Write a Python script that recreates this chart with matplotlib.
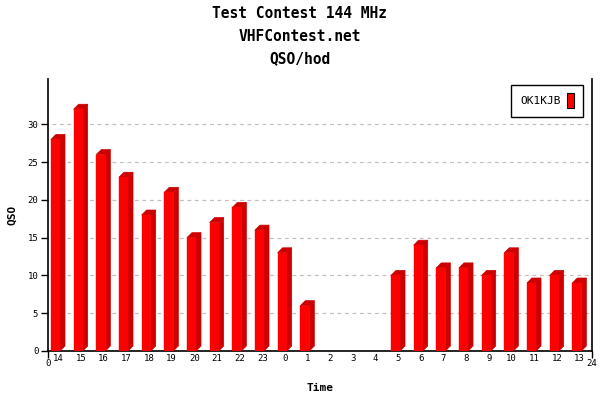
import matplotlib
matplotlib.use("Agg")
import matplotlib.pyplot as plt
from matplotlib.patches import Polygon, Patch

# data
hours = [14, 15, 16, 17, 18, 19, 20, 21, 22, 23, 0, 1, 2, 3, 4, 5, 6, 7, 8, 9, 10, 11, 12, 13]
qso = [28, 32, 26, 23, 18, 21, 15, 17, 19, 16, 13, 6, 0, 0, 0, 10, 14, 11, 11, 10, 13, 9, 10, 9]
y_ticks = [0, 5, 10, 15, 20, 25, 30]

font = "DejaVu Sans Mono"
front = "#ff0000"
shade = "#cc0000"

fig = plt.figure(figsize=(6, 4), dpi=100)
ax = fig.add_axes([0.08, 0.1225, 0.9067, 0.68])

# 3D-ish bars
off = 0.13
w = 0.40
dx = 0.22
dy = 0.66
for i, v in enumerate(qso):
    if v <= 0:
        continue
    x0 = i + off
    side = [(x0 + w, 0), (x0 + w + dx, dy), (x0 + w + dx, v + dy), (x0 + w, v)]
    top = [(x0, v), (x0 + dx, v + dy), (x0 + w + dx, v + dy), (x0 + w, v)]
    ax.add_patch(Polygon(side, closed=True, facecolor=shade, edgecolor=shade, linewidth=0.5, zorder=3))
    ax.add_patch(Polygon(top, closed=True, facecolor=shade, edgecolor=shade, linewidth=0.5, zorder=3))
    ax.bar(x0, v, width=w, align="edge", color=front, edgecolor=front, linewidth=0.3, zorder=4)

ax.set_xlim(0, 24)
ax.set_ylim(0, 36)

# grid
for t in y_ticks[1:]:
    ax.plot([0.18, 24], [t, t], color="#c0c0c0", linestyle=(0, (3, 3)), linewidth=0.9, zorder=1)

ax.spines["top"].set_visible(False)
for s in ["left", "bottom", "right"]:
    ax.spines[s].set_linewidth(1.2)

ax.set_yticks(y_ticks)
ax.set_yticklabels([str(t) for t in y_ticks], fontsize=6.5, family=font)
ax.tick_params(axis="y", direction="out", length=5, width=1, pad=2)

ax.set_xticks([0, 24])
ax.set_xticklabels(["0", "24"], fontsize=6.5, family=font)
ax.tick_params(axis="x", which="major", direction="out", length=5, width=1, pad=1)
ax.set_xticks([i + 0.45 for i in range(24)], minor=True)
ax.set_xticklabels([str(h) for h in hours], minor=True, fontsize=6.5, family=font)
ax.tick_params(axis="x", which="minor", length=0, pad=2)

fig.text(0.5, 0.965, "Test Contest 144 MHz", ha="center", va="center",
         fontsize=10.5, fontweight="bold", family=font)
fig.text(0.5, 0.908, "VHFContest.net", ha="center", va="center",
         fontsize=10.5, fontweight="bold", family=font)
fig.text(0.5, 0.853, "QSO/hod", ha="center", va="center",
         fontsize=10.5, fontweight="bold", family=font)

fig.text(0.533, 0.03, "Time", ha="center", va="center",
         fontsize=8, fontweight="bold", family=font)
fig.text(0.02, 0.4625, "QSO", ha="center", va="center", rotation=90,
         fontsize=8, fontweight="bold", family=font)

leg = ax.legend(handles=[Patch(facecolor=front, edgecolor="black", linewidth=0.8, label="OK1KJB")],
                loc="upper right", bbox_to_anchor=(0.993, 1.0), markerfirst=False,
                fancybox=False, framealpha=1, edgecolor="black",
                prop={"family": font, "size": 8},
                handlelength=0.6, handleheight=1.6, borderpad=0.8, handletextpad=0.6)
leg.get_frame().set_linewidth(1)

fig.savefig("out.png", dpi=100)
